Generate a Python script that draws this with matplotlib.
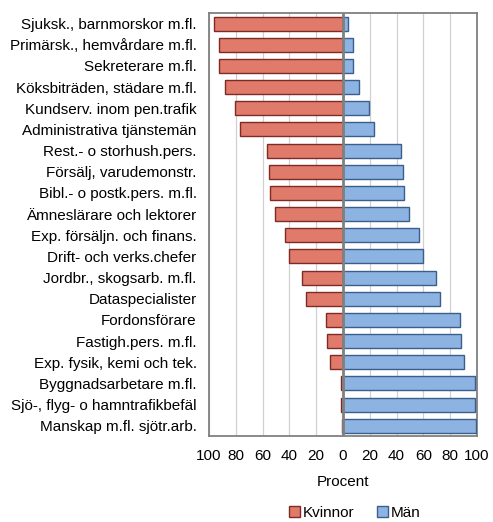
import numpy as np
import matplotlib
matplotlib.use('Agg')
import matplotlib.pyplot as plt

plt.rcParams['font.family'] = ['Liberation Sans', 'DejaVu Sans']

categories = [
    'Sjuksk., barnmorskor m.fl.',
    'Primärsk., hemvårdare m.fl.',
    'Sekreterare m.fl.',
    'Köksbiträden, städare m.fl.',
    'Kundserv. inom pen.trafik',
    'Administrativa tjänstemän',
    'Rest.- o storhush.pers.',
    'Försälj, varudemonstr.',
    'Bibl.- o postk.pers. m.fl.',
    'Ämneslärare och lektorer',
    'Exp. försäljn. och finans.',
    'Drift- och verks.chefer',
    'Jordbr., skogsarb. m.fl.',
    'Dataspecialister',
    'Fordonsförare',
    'Fastigh.pers. m.fl.',
    'Exp. fysik, kemi och tek.',
    'Byggnadsarbetare m.fl.',
    'Sjö-, flyg- o hamntrafikbefäl',
    'Manskap m.fl. sjötr.arb.',
]
kvinnor = [96.3, 92.8, 92.6, 88.2, 80.7, 77.0, 56.9, 55.4, 54.6, 50.9,
           43.5, 40.5, 30.8, 27.8, 12.9, 11.7, 9.9, 1.7, 1.2, 0.7]
man = [3.7, 7.2, 7.4, 11.8, 19.3, 23.0, 43.1, 44.6, 45.4, 49.1,
       56.5, 59.5, 69.2, 72.2, 87.1, 88.3, 90.1, 98.3, 98.8, 99.3]
xticks = [-100, -80, -60, -40, -20, 0, 20, 40, 60, 80, 100]

fig = plt.figure(figsize=(4.93, 5.22), dpi=100)
ax = fig.add_axes([0.424, 0.164, 0.5435, 0.811])

y = np.arange(len(categories))
h = 0.66
ax.barh(y, -np.array(kvinnor), height=h, color='#E07B6C', edgecolor='#7F2A24',
        linewidth=1.0, label='Kvinnor', zorder=3)
ax.barh(y, man, height=h, color='#8DB3E2', edgecolor='#3A5F8C',
        linewidth=1.0, label='Män', zorder=3)

ax.set_xlim(-100, 100)
ax.set_ylim(len(categories) - 0.5, -0.5)
ax.set_yticks(y)
ax.set_yticklabels(categories, fontsize=11)
ax.set_xticks(xticks)
ax.set_xticklabels([str(abs(t)) for t in xticks], fontsize=11)
ax.tick_params(length=0)
ax.tick_params(axis='y', pad=9)
ax.tick_params(axis='x', pad=9)
ax.xaxis.grid(True, color='#D0D0D0', linewidth=0.9, zorder=0)
ax.axvline(0, color='#808080', linewidth=2, zorder=4)
for s in ax.spines.values():
    s.set_color('#808080')
    s.set_linewidth(1.3)
ax.set_xlabel('Procent', fontsize=11, labelpad=9)

fig.legend(loc='lower center', bbox_to_anchor=(0.72, -0.022), ncol=2, frameon=False,
           fontsize=11, handlelength=0.7, handleheight=0.7, handletextpad=0.2,
           columnspacing=1.5)

plt.savefig('out.png', dpi=100)
